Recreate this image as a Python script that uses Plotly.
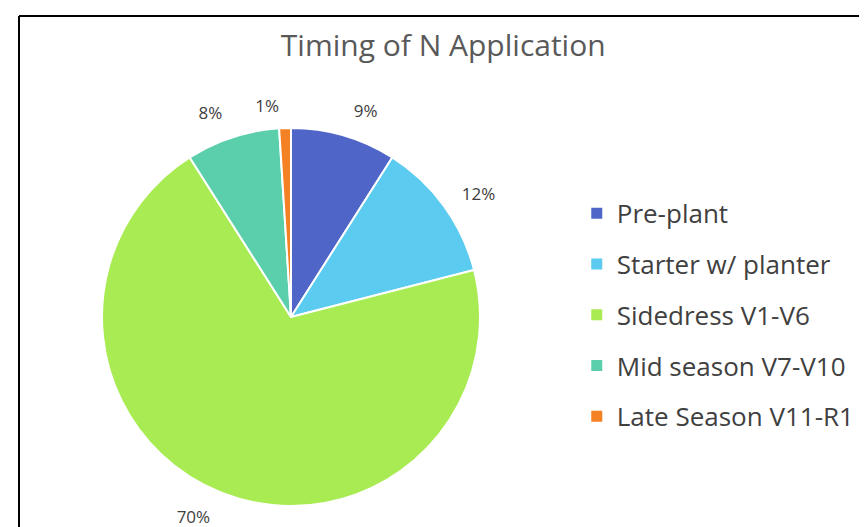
import plotly.graph_objects as go

title = "Timing of N Application"
labels = ["Pre-plant", "Starter w/ planter", "Sidedress V1-V6", "Mid season V7-V10", "Late Season V11-R1"]
values = [9, 12, 70, 8, 1]
colors = ["#4F65C8", "#5BCBF0", "#A9EB52", "#5BCFAC", "#F58125"]

W, H = 867, 527
cx, cy, r = 283, 309, 189
r_lab = 204      # radius of the transparent pie carrying most labels
r_lab_small = 200  # radius of the transparent pie carrying the smallest label


def dom(rad):
    return dict(x=[(cx - rad) / W, (cx + rad) / W], y=[(H - cy - rad) / H, (H - cy + rad) / H])


smallest = values.index(min(values))
pos_main = ["none" if i == smallest else "outside" for i in range(len(values))]
pos_small = ["outside" if i == smallest else "none" for i in range(len(values))]

fig = go.Figure()
# visible pie
fig.add_trace(go.Pie(
    labels=labels, values=values, sort=False, direction="clockwise", rotation=0,
    marker=dict(colors=colors, line=dict(color="white", width=2)),
    textinfo="none", showlegend=False, hoverinfo="label+percent",
    domain=dom(r),
))
# transparent, slightly larger pies that carry the percentage labels
for rad, pos in ((r_lab, pos_main), (r_lab_small, pos_small)):
    fig.add_trace(go.Pie(
        labels=labels, values=values, sort=False, direction="clockwise", rotation=0,
        marker=dict(colors=["rgba(0,0,0,0)"] * len(values), line=dict(width=0)),
        texttemplate="%{percent:.0%}", textposition=pos,
        textfont=dict(family="Open Sans", size=17, color="#404040"),
        showlegend=False, hoverinfo="skip",
        domain=dom(rad),
    ))
for lab, col in zip(labels, colors):
    fig.add_trace(go.Scatter(
        x=[None], y=[None], mode="markers", name=lab, legendgroup=lab,
        marker=dict(symbol="square", size=11, color=col),
    ))

fig.update_layout(
    width=W, height=H, margin=dict(l=0, r=0, t=0, b=0),
    paper_bgcolor="white", plot_bgcolor="white",
    title=dict(text=title, x=0.502, xanchor="center", y=0.928, yanchor="middle",
               font=dict(family="Open Sans", size=30, color="#595959")),
    xaxis=dict(visible=False), yaxis=dict(visible=False),
    legend=dict(x=0.656, xanchor="left", y=0.417, yanchor="middle",
                font=dict(family="Open Sans", size=26, color="#404040"),
                tracegroupgap=14, itemclick=False),
    shapes=[
        dict(type="line", xref="paper", yref="paper", x0=11 / W, x1=1, y0=1 - 8 / H, y1=1 - 8 / H,
             line=dict(color="black", width=2)),
        dict(type="line", xref="paper", yref="paper", x0=11 / W, x1=11 / W, y0=0, y1=1 - 8 / H,
             line=dict(color="black", width=2)),
    ],
)
fig.write_html("out.html")
